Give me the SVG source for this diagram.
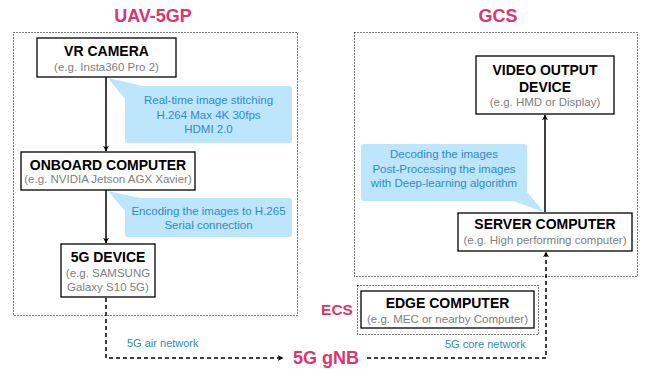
<svg xmlns="http://www.w3.org/2000/svg" width="651" height="369" viewBox="0 0 651 369">
<defs>
<marker id="arr" viewBox="0 0 10 10" refX="9" refY="5" markerWidth="6" markerHeight="6" orient="auto" markerUnits="userSpaceOnUse">
<path d="M0,0 L10,5 L0,10 L3,5 Z" fill="#000"/>
</marker>
<style>
text{font-family:"Liberation Sans",Arial,Helvetica,sans-serif;text-anchor:middle}
.grp{fill:none;stroke:#000;stroke-width:1;stroke-dasharray:1 2}
.box{fill:#fff;stroke:#000;stroke-width:1.3}
.t{font-size:14px;font-weight:bold;fill:#000}
.s{font-size:11.5px;fill:#808080}
.lbl{font-size:18px;font-weight:bold;fill:#E0336F}
.co{fill:#BDE5FB}
.ct{font-size:11.5px;fill:#2F8BCB}
.nl{font-size:11px;fill:#2F8BCB;text-anchor:start}
.solid{fill:none;stroke:#000;stroke-width:1.5}
.dash{fill:none;stroke:#000;stroke-width:1.5;stroke-dasharray:4 3}
</style>
</defs>
<rect width="651" height="369" fill="#fff"/>

<g id="uav-group">
<rect class="grp" x="13.5" y="32.5" width="284" height="283"/>
<text class="lbl" x="153" y="22">UAV-5GP</text>
</g>
<g id="gcs-group">
<rect class="grp" x="354.5" y="32.5" width="283" height="244"/>
<text class="lbl" x="498" y="22">GCS</text>
</g>
<g id="ecs-group">
<rect class="grp" x="357.5" y="285.5" width="181" height="49"/>
<text class="lbl" x="337" y="315" style="font-size:15.5px">ECS</text>
</g>
<g id="gnb">
<text class="lbl" x="326" y="364">5G gNB</text>
</g>

<g id="callouts">
<path class="co" d="M143,86 L289,86 Q292,86 292,89 L292,140 Q292,143 289,143 L128,143 Q125,143 125,140 L125,99 L108,78 Z"/>
<text class="ct" x="208.5" y="104">Real-time image stitching</text>
<text class="ct" x="208.5" y="119">H.264 Max 4K 30fps</text>
<text class="ct" x="208.5" y="133">HDMI 2.0</text>
<path class="co" d="M140,198 L289,198 Q292,198 292,201 L292,234 Q292,237 289,237 L128,237 Q125,237 125,234 L125,211 L108,191 Z"/>
<text class="ct" x="208.5" y="215">Encoding the images to H.265</text>
<text class="ct" x="208.5" y="229">Serial connection</text>
<path class="co" d="M364,144 L524,144 Q527,144 527,147 L527,192 L544,212 L513,201 L364,201 Q361,201 361,198 L361,147 Q361,144 364,144 Z"/>
<text class="ct" x="444" y="158">Decoding the images</text>
<text class="ct" x="444" y="173">Post-Processing the images</text>
<text class="ct" x="444" y="187">with Deep-learning algorithm</text>
</g>

<g id="connectors">
<line class="solid" x1="106" y1="77" x2="106" y2="151" marker-end="url(#arr)"/>
<line class="solid" x1="106" y1="190" x2="106" y2="243" marker-end="url(#arr)"/>
<line class="solid" x1="545" y1="212" x2="545" y2="115" marker-end="url(#arr)"/>
<path class="dash" d="M106,298 L106,358 L283,358" marker-end="url(#arr)"/>
<path class="dash" d="M367,358 L546,358 L546,252" marker-end="url(#arr)"/>
<text class="nl" x="127" y="347">5G air network</text>
<text class="nl" x="445" y="348">5G core network</text>
</g>

<g id="vr-camera">
<rect class="box" x="37" y="38" width="139" height="39"/>
<text class="t" x="106.5" y="56">VR CAMERA</text>
<text class="s" x="106.5" y="71">(e.g. Insta360 Pro 2)</text>
</g>
<g id="onboard-computer">
<rect class="box" x="21" y="152" width="174" height="38"/>
<text class="t" x="108" y="170">ONBOARD COMPUTER</text>
<text class="s" x="108" y="183">(e.g. NVIDIA Jetson AGX Xavier)</text>
</g>
<g id="5g-device">
<rect class="box" x="61" y="244" width="94" height="53"/>
<text class="t" x="108" y="262">5G DEVICE</text>
<text class="s" x="108" y="277">(e.g. SAMSUNG</text>
<text class="s" x="108" y="291">Galaxy S10 5G)</text>
</g>
<g id="video-output">
<rect class="box" x="476" y="56" width="138" height="58"/>
<text class="t" x="545" y="75">VIDEO OUTPUT</text>
<text class="t" x="545" y="92">DEVICE</text>
<text class="s" x="545" y="106">(e.g. HMD or Display)</text>
</g>
<g id="server-computer">
<rect class="box" x="458" y="213" width="174" height="38"/>
<text class="t" x="545" y="229">SERVER COMPUTER</text>
<text class="s" x="545" y="244">(e.g. High performing computer)</text>
</g>
<g id="edge-computer">
<rect class="box" x="361" y="291" width="173" height="37"/>
<text class="t" x="447.5" y="308">EDGE COMPUTER</text>
<text class="s" x="447.5" y="323">(e.g. MEC or nearby Computer)</text>
</g>
</svg>
